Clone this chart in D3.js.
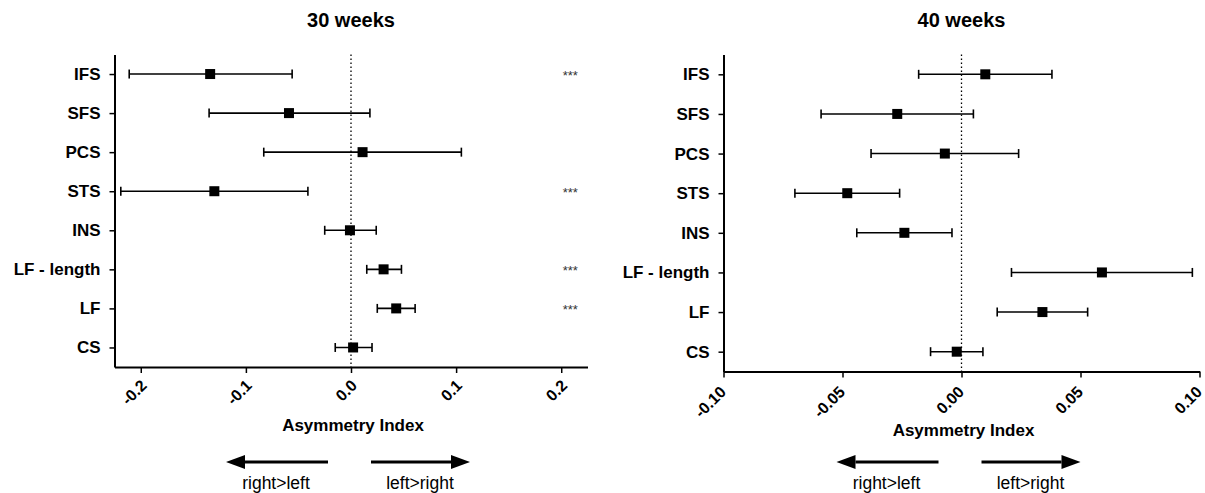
<!DOCTYPE html>
<html>
<head>
<meta charset="utf-8">
<script src="https://cdn.jsdelivr.net/npm/d3@7"></script>
<style>
  body { margin: 0; background: #fff; }
  svg { font-family: "Liberation Sans", Arial, sans-serif; }
</style>
</head>
<body>
<div id="chart"></div>
<script>
// data
var categories = ["IFS", "SFS", "PCS", "STS", "INS", "LF - length", "LF", "CS"];

var mean30 = [-0.134, -0.059, 0.011, -0.130, -0.001, 0.031, 0.043, 0.002];
var lo30   = [-0.211, -0.135, -0.083, -0.219, -0.025, 0.015, 0.025, -0.015];
var hi30   = [-0.056, 0.018, 0.105, -0.041, 0.024, 0.048, 0.061, 0.020];
var sig30  = ["***", "", "", "***", "", "***", "***", ""];

var mean40 = [0.010, -0.027, -0.007, -0.048, -0.024, 0.059, 0.034, -0.002];
var lo40   = [-0.018, -0.059, -0.038, -0.070, -0.044, 0.021, 0.015, -0.013];
var hi40   = [0.038, 0.005, 0.024, -0.026, -0.004, 0.097, 0.053, 0.009];
var sig40  = ["", "", "", "", "", "", "", ""];

var ticks30 = [-0.2, -0.1, 0.0, 0.1, 0.2];
var ticks40 = [-0.10, -0.05, 0.00, 0.05, 0.10];

var svg = d3.select("#chart").append("svg")
  .attr("width", 1205)
  .attr("height", 493);

function drawPanel(p) {
  var x = d3.scaleLinear().domain(p.domain).range([p.left, p.right]);
  var y = d3.scalePoint().domain(categories).range([p.top, p.bottom]).padding(0.5);

  var rows = categories.map(function (c, i) {
    return { key: c, mean: p.mean[i], lo: p.lo[i], hi: p.hi[i], sig: p.sig[i] };
  });

  var g = svg.append("g");

  // title
  g.append("text")
    .attr("x", (p.left + p.right) / 2)
    .attr("y", 27)
    .attr("text-anchor", "middle")
    .style("font-size", "20px")
    .style("font-weight", "bold")
    .text(p.title);

  // zero line
  g.append("line")
    .attr("x1", x(0)).attr("x2", x(0))
    .attr("y1", p.top).attr("y2", p.bottom)
    .attr("stroke", "#000")
    .attr("stroke-width", 1.3)
    .attr("stroke-dasharray", "1.5,2.5");

  // y axis
  var yAxis = g.append("g")
    .attr("transform", "translate(" + p.left + ",0)")
    .call(d3.axisLeft(y).tickSize(5).tickSizeOuter(0).tickPadding(9));
  yAxis.select(".domain").attr("stroke-width", 2);
  yAxis.selectAll(".tick line").attr("stroke-width", 1.5);
  yAxis.selectAll("text")
    .style("font-size", "17px")
    .style("font-weight", "bold")
    .attr("fill", "#000");

  // x axis
  var xAxis = g.append("g")
    .attr("transform", "translate(0," + p.bottom + ")")
    .call(d3.axisBottom(x).tickValues(p.ticks).tickSize(6).tickSizeOuter(0)
      .tickFormat(function (d) { return d.toFixed(p.digits); }));
  xAxis.select(".domain").attr("stroke-width", 2);
  xAxis.selectAll(".tick line").attr("stroke-width", 1.5);
  xAxis.selectAll("text")
    .attr("x", 0).attr("y", 0).attr("dy", 0)
    .attr("transform", "translate(" + p.lx + "," + p.ly + ") rotate(-45)")
    .style("text-anchor", "end")
    .style("font-size", "16px")
    .style("font-weight", "bold")
    .attr("fill", "#000");

  // axis title
  g.append("text")
    .attr("x", x(0) + 2)
    .attr("y", p.labelY)
    .attr("text-anchor", "middle")
    .style("font-size", "17px")
    .style("font-weight", "bold")
    .text("Asymmetry Index");

  // error bars
  var bars = g.selectAll(".bar").data(rows).enter().append("g").attr("class", "bar");
  bars.append("line")
    .attr("x1", function (d) { return x(d.lo); })
    .attr("x2", function (d) { return x(d.hi); })
    .attr("y1", function (d) { return y(d.key); })
    .attr("y2", function (d) { return y(d.key); })
    .attr("stroke", "#000").attr("stroke-width", 1.6);
  ["lo", "hi"].forEach(function (k) {
    bars.append("line")
      .attr("x1", function (d) { return x(d[k]); })
      .attr("x2", function (d) { return x(d[k]); })
      .attr("y1", function (d) { return y(d.key) - 4.5; })
      .attr("y2", function (d) { return y(d.key) + 4.5; })
      .attr("stroke", "#000").attr("stroke-width", 1.6);
  });
  bars.append("rect")
    .attr("x", function (d) { return x(d.mean) - 5; })
    .attr("y", function (d) { return y(d.key) - 5; })
    .attr("width", 10).attr("height", 10)
    .attr("fill", "#000");

  // significance stars
  g.selectAll(".sig").data(rows).enter().append("text")
    .attr("x", x(0.2) + 9)
    .attr("y", function (d) { return y(d.key) + 6; })
    .attr("text-anchor", "middle")
    .style("font-size", "13px")
    .attr("fill", "#333")
    .text(function (d) { return d.sig; });

  // direction arrows
  var x0 = x(0), ay = 462;
  g.append("line").attr("x1", x0 - 106).attr("x2", x0 - 23)
    .attr("y1", ay).attr("y2", ay).attr("stroke", "#000").attr("stroke-width", 3);
  g.append("path")
    .attr("d", "M" + (x0 - 125) + "," + ay + "L" + (x0 - 106) + "," + (ay - 7) + "L" + (x0 - 106) + "," + (ay + 7) + "Z")
    .attr("fill", "#000");
  g.append("line").attr("x1", x0 + 20).attr("x2", x0 + 100)
    .attr("y1", ay).attr("y2", ay).attr("stroke", "#000").attr("stroke-width", 3);
  g.append("path")
    .attr("d", "M" + (x0 + 119) + "," + ay + "L" + (x0 + 100) + "," + (ay - 7) + "L" + (x0 + 100) + "," + (ay + 7) + "Z")
    .attr("fill", "#000");

  g.append("text").attr("x", x0 - 75).attr("y", 489)
    .attr("text-anchor", "middle").style("font-size", "17.5px")
    .text("right>left");
  g.append("text").attr("x", x0 + 69).attr("y", 489)
    .attr("text-anchor", "middle").style("font-size", "17.5px")
    .text("left>right");
}

drawPanel({
  title: "30 weeks", mean: mean30, lo: lo30, hi: hi30, sig: sig30,
  ticks: ticks30, digits: 1, domain: [-0.225, 0.225],
  left: 114.5, right: 587.5, top: 54.5, bottom: 367,
  lx: 6.5, ly: 19.5, labelY: 431
});

drawPanel({
  title: "40 weeks", mean: mean40, lo: lo40, hi: hi40, sig: sig40,
  ticks: ticks40, digits: 2, domain: [-0.10, 0.10],
  left: 723.5, right: 1199.5, top: 54.5, bottom: 371.5,
  lx: 3, ly: 21.5, labelY: 436
});
</script>
</body>
</html>
